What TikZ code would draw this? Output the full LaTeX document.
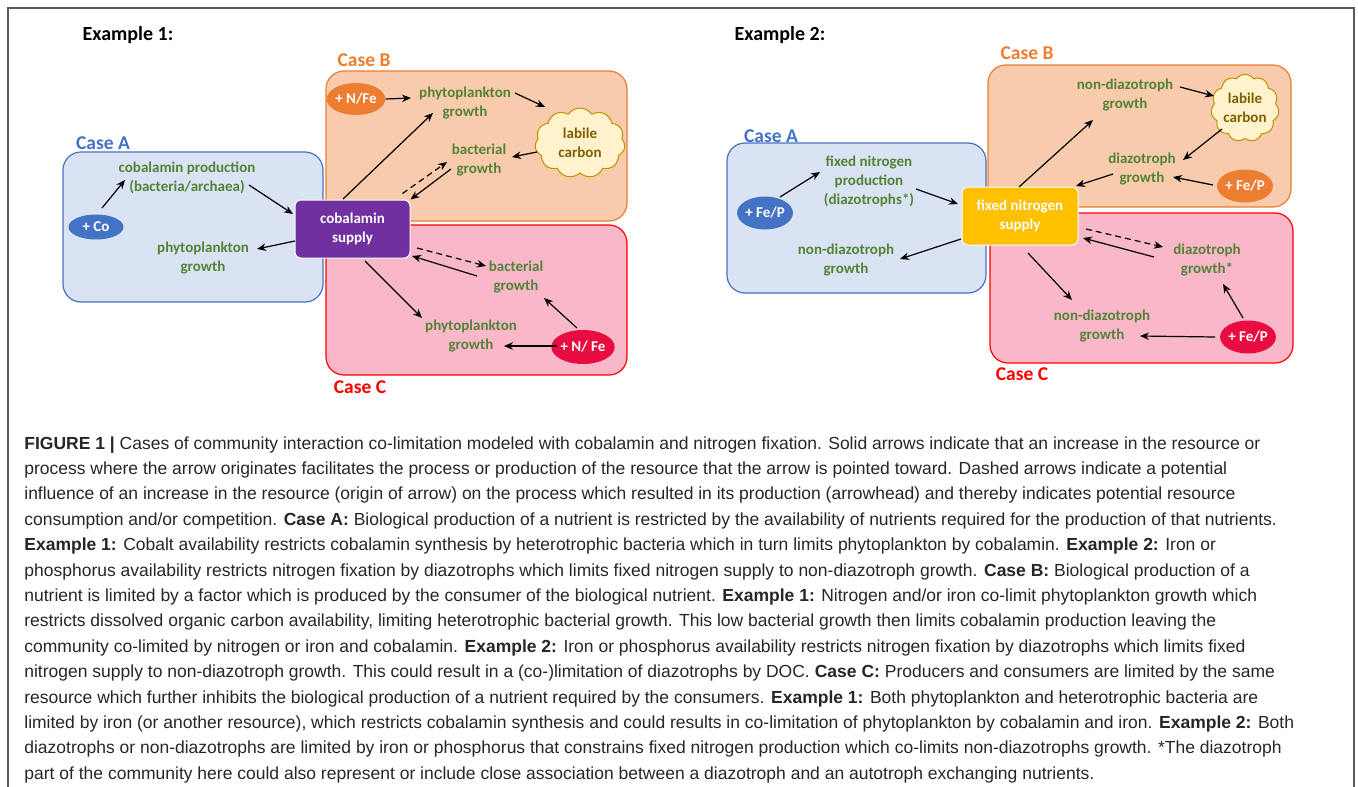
\documentclass[tikz,border=0pt]{standalone}
\usepackage{fontspec}
\setmainfont{Carlito}
\newfontfamily\capfont{Liberation Sans}
\usetikzlibrary{arrows.meta,shapes.geometric,shapes.symbols,calc}

\definecolor{caseAfill}{RGB}{218,227,243}
\definecolor{caseAline}{RGB}{68,114,196}
\definecolor{caseBfill}{RGB}{248,203,173}
\definecolor{caseBline}{RGB}{237,125,49}
\definecolor{caseCfill}{RGB}{249,184,201}
\definecolor{caseCline}{RGB}{255,0,0}
\definecolor{growthgreen}{RGB}{84,130,53}
\definecolor{cobpurple}{RGB}{112,48,160}
\definecolor{fixyellow}{RGB}{255,192,0}
\definecolor{crimson}{RGB}{232,12,64}
\definecolor{cloudfill}{RGB}{255,242,204}
\definecolor{cloudline}{RGB}{191,144,0}
\definecolor{cloudtext}{RGB}{127,96,0}
\definecolor{framegray}{RGB}{90,90,90}

\tikzset{every picture/.style={line width=0.75pt}}
\tikzset{
  casebox/.style={line width=1.2pt, rounded corners=18pt},
  caselabel/.style={font=\bfseries\fontsize{19.5}{22}\selectfont, inner sep=0pt},
  growth/.style={text=growthgreen, font=\bfseries\fontsize{15}{19}\selectfont, align=center, inner sep=3pt},
  addnut/.style={ellipse, inner sep=0pt, text=white, font=\bfseries\fontsize{15}{18}\selectfont},
  supplybox/.style={rectangle, rounded corners=6pt, draw=white, line width=1pt, text=white, align=center,
    minimum height=58pt, font=\bfseries\fontsize{15}{19}\selectfont},
  carbon/.style={cloud, cloud puffs=11, cloud puff arc=110, draw=cloudline, fill=cloudfill, line width=1pt,
    text=cloudtext, align=center, inner sep=0pt, font=\bfseries\fontsize{15}{19}\selectfont},
  conn/.style={-{Stealth[length=9pt,width=7.5pt]}, line width=1.2pt},
  connd/.style={conn, dash pattern=on 6pt off 4pt}
}

\begin{document}
\begin{tikzpicture}[x=1pt,y=1pt,yscale=-1,xscale=1]
\useasboundingbox (0,0) rectangle (1358,787);

% Frame
\draw [framegray, line width=1.2pt] (8,787) -- (8,8) -- (1354,8) -- (1354,787);

% ---------------- Example 1 ----------------
\node (e1title) at (128,35) {\bfseries\fontsize{20}{22}\selectfont Example 1:};

% Case boxes
\draw [casebox, draw=caseAline, fill=caseAfill] (63,152) rectangle (323,302);
\draw [casebox, draw=caseBline, fill=caseBfill] (326,71) rectangle (627,221);
\draw [casebox, draw=caseCline, fill=caseCfill] (326,225) rectangle (627,375);
\node [caselabel, text=caseAline] (e1caseA) at (103,143) {Case A};
\node [caselabel, text=caseBline] (e1caseB) at (364,60) {Case B};
\node [caselabel, text=caseCline] (e1caseC) at (360,387) {Case C};

% Text Node
\node [addnut, fill=caseAline, minimum width=55pt, minimum height=25pt] (e1co) at (96,227) {+ Co};
\node [growth] (e1prod) at (187,178) {cobalamin production\\(bacteria/archaea)};
\node [growth] (e1phytoA) at (203,258) {phytoplankton\\growth};
\node [supplybox, fill=cobpurple, minimum width=115pt] (e1supply) at (352.5,229) {cobalamin\\supply};
\node [addnut, fill=caseBline, minimum width=51pt, minimum height=32pt] (e1nfeB) at (356,99) {+ N/Fe};
\node [growth] (e1phytoB) at (465,103) {phytoplankton\\growth};
\node [carbon, minimum width=90pt, minimum height=70pt] (e1carbon) at (580,143) {labile\\carbon};
\node [growth] (e1bactB) at (479,160) {bacterial\\growth};
\node [growth] (e1bactC) at (516,277) {bacterial\\growth};
\node [growth] (e1phytoC) at (471,336) {phytoplankton\\growth};
\node [addnut, fill=crimson, minimum width=54pt, minimum height=34pt] (e1nfeC) at (583,347) {+ N/ Fe};

% Connection
\draw [conn] ($(e1co)+(6,-19)$) -- ($(e1prod)+(-62,2)$);
\draw [conn] ($(e1prod)+(62,7)$) -- ($(e1supply)+(-59.5,-15)$);
\draw [conn] ($(e1supply)+(-57.5,12)$) -- ($(e1phytoA)+(54,-9)$);
\draw [conn] ($(e1supply)+(-9.5,-30)$) -- ($(e1phytoB)+(-32,10)$);
\draw [conn] (e1nfeB.east) -- ($(e1phytoB)+(-54,-5)$);
\draw [conn] ($(e1phytoB)+(50,-10)$) -- ($(e1carbon)+(-35,-36)$);
\draw [conn] ($(e1carbon)+(-43,9)$) -- ($(e1bactB)+(33,-3)$);
\draw [conn] ($(e1bactB)+(-28,9)$) -- (e1supply.north east);
\draw [connd] ($(e1supply.north east)+(-8,-6)$) -- ($(e1bactB)+(-32,2)$);
\draw [connd] ($(e1supply)+(64.5,19)$) -- ($(e1bactC)+(-30,-11)$);
\draw [conn] ($(e1bactC)+(-39,-1)$) -- ($(e1supply)+(59.5,27)$);
\draw [conn] ($(e1supply)+(12.5,32)$) -- ($(e1phytoC)+(-49,-18)$);
\draw [conn] ($(e1nfeC)+(-26,-1)$) -- ($(e1phytoC)+(33,10)$);
\draw [conn] ($(e1nfeC)+(-6,-19)$) -- ($(e1bactC)+(28,21)$);

% ---------------- Example 2 ----------------
\node (e2title) at (780,35) {\bfseries\fontsize{20}{22}\selectfont Example 2:};

% Case boxes
\draw [casebox, draw=caseAline, fill=caseAfill] (727,143) rectangle (986,293);
\draw [casebox, draw=caseBline, fill=caseBfill] (988,65) rectangle (1291,207);
\draw [casebox, draw=caseCline, fill=caseCfill] (990,213) rectangle (1293,363);
\node [caselabel, text=caseAline] (e2caseA) at (771,136) {Case A};
\node [caselabel, text=caseBline] (e2caseB) at (1027,53) {Case B};
\node [caselabel, text=caseCline] (e2caseC) at (1022,374) {Case C};

% Text Node
\node [addnut, fill=caseAline, minimum width=55pt, minimum height=33pt] (e2fep) at (765,213) {+ Fe/P};
\node [growth] (e2prod) at (869,181) {fixed nitrogen\\production\\(diazotrophs*)};
\node [growth] (e2ndA) at (846,260) {non-diazotroph\\growth};
\node [supplybox, fill=fixyellow, minimum width=116pt] (e2supply) at (1020,216) {fixed nitrogen\\supply};
\node [growth] (e2ndB) at (1125,95) {non-diazotroph\\growth};
\node [carbon, minimum width=68pt, minimum height=57pt] (e2carbon) at (1245,108) {labile\\carbon};
\node [growth] (e2diazB) at (1142,169) {diazotroph\\growth};
\node [addnut, fill=caseBline, minimum width=53pt, minimum height=33pt] (e2fepB) at (1245,186) {+ Fe/P};
\node [growth] (e2diazC) at (1207,260) {diazotroph\\growth*};
\node [growth] (e2ndC) at (1102,326) {non-diazotroph\\growth};
\node [addnut, fill=crimson, minimum width=53pt, minimum height=33pt] (e2fepC) at (1248,337) {+ Fe/P};

% Connection
\draw [conn] ($(e2fep)+(15,-16)$) -- ($(e2prod)+(-49,-9)$);
\draw [conn] ($(e2prod)+(47,8)$) -- ($(e2supply)+(-62,-12)$);
\draw [conn] ($(e2supply)+(-59,23)$) -- ($(e2ndA)+(54,-1)$);
\draw [conn] ($(e2supply)+(-1,-29)$) -- ($(e2ndB)+(-32,25)$);
\draw [conn] ($(e2ndB)+(55,-8)$) -- ($(e2carbon)+(-31,-12)$);
\draw [conn] ($(e2carbon)+(-23,21)$) -- ($(e2diazB)+(41,-9)$);
\draw [conn] ($(e2diazB)+(-29,5)$) -- ($(e2supply)+(56,-30)$);
\draw [conn] ($(e2fepB)+(-32,-1)$) -- ($(e2diazB)+(31,8)$);
\draw [connd] ($(e2supply)+(66,13)$) -- ($(e2diazC)+(-44,-13)$);
\draw [conn] ($(e2diazC)+(-53,-3)$) -- ($(e2supply)+(63,22)$);
\draw [conn] ($(e2supply)+(8,37)$) -- ($(e2ndC)+(-30,-26)$);
\draw [conn] ($(e2fepC)+(-33,0)$) -- ($(e2ndC)+(38,10)$);
\draw [conn] ($(e2fepC)+(-5,-19)$) -- ($(e2diazC)+(16,24)$);

% ---------------- Caption ----------------
\node [anchor=north west, align=left, inner sep=0pt, text=black!85, font=\capfont\fontsize{17.5}{25.4}\selectfont] (caption) at (24,436) {%
\textbf{FIGURE 1 |} Cases of community interaction co-limitation modeled with cobalamin and nitrogen fixation. Solid arrows indicate that an increase in the resource or\\
process where the arrow originates facilitates the process or production of the resource that the arrow is pointed toward. Dashed arrows indicate a potential\\
influence of an increase in the resource (origin of arrow) on the process which resulted in its production (arrowhead) and thereby indicates potential resource\\
consumption and/or competition. \textbf{Case A:} Biological production of a nutrient is restricted by the availability of nutrients required for the production of that nutrients.\\
\textbf{Example 1:} Cobalt availability restricts cobalamin synthesis by heterotrophic bacteria which in turn limits phytoplankton by cobalamin. \textbf{Example 2:} Iron or\\
phosphorus availability restricts nitrogen fixation by diazotrophs which limits fixed nitrogen supply to non-diazotroph growth. \textbf{Case B:} Biological production of a\\
nutrient is limited by a factor which is produced by the consumer of the biological nutrient. \textbf{Example 1:} Nitrogen and/or iron co-limit phytoplankton growth which\\
restricts dissolved organic carbon availability, limiting heterotrophic bacterial growth. This low bacterial growth then limits cobalamin production leaving the\\
community co-limited by nitrogen or iron and cobalamin. \textbf{Example 2:} Iron or phosphorus availability restricts nitrogen fixation by diazotrophs which limits fixed\\
nitrogen supply to non-diazotroph growth. This could result in a (co-)limitation of diazotrophs by DOC. \textbf{Case C:} Producers and consumers are limited by the same\\
resource which further inhibits the biological production of a nutrient required by the consumers. \textbf{Example 1:} Both phytoplankton and heterotrophic bacteria are\\
limited by iron (or another resource), which restricts cobalamin synthesis and could results in co-limitation of phytoplankton by cobalamin and iron. \textbf{Example 2:} Both\\
diazotrophs or non-diazotrophs are limited by iron or phosphorus that constrains fixed nitrogen production which co-limits non-diazotrophs growth. *The diazotroph\\
part of the community here could also represent or include close association between a diazotroph and an autotroph exchanging nutrients.};

\end{tikzpicture}
\end{document}
